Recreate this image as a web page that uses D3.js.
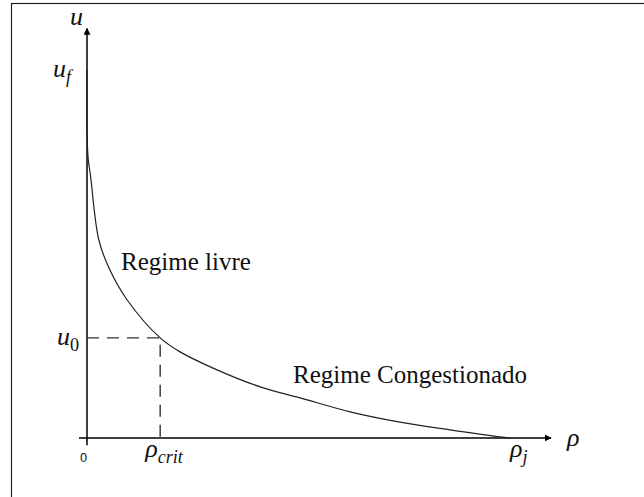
<!DOCTYPE html>
<html>
<head>
<meta charset="utf-8">
<script src="https://cdn.jsdelivr.net/npm/d3@7"></script>
</head>
<body style="margin:0">
<svg id="c" width="644" height="497"></svg>
<script>
// density (rho / rho_j) and speed (u / u_f)
var rho = [0, 0, 0.0024, 0.0087, 0.028, 0.054, 0.095, 0.173, 0.22, 0.298, 0.409, 0.504, 0.622, 0.740, 0.858, 0.976, 1.0];
var speed = [1.0, 0.845, 0.764, 0.709, 0.538, 0.457, 0.375, 0.272, 0.234, 0.190, 0.139, 0.109, 0.071, 0.043, 0.022, 0.003, 0];

var uf = 1.0;
var u0 = 0.272;
var rhoCrit = 0.173;
var rhoJ = 1.0;

var svg = d3.select("#c");

var x = d3.scaleLinear().domain([0, 1]).range([87, 510]);
var y = d3.scaleLinear().domain([0, 1]).range([438, 70]);

// frame
svg.append("rect")
	.attr("x", 11.5).attr("y", 3.5)
	.attr("width", 700).attr("height", 600)
	.attr("fill", "none").attr("stroke", "#222").attr("stroke-width", 1.2);

svg.append("defs").append("marker")
	.attr("id", "arrow")
	.attr("viewBox", "0 0 10 10")
	.attr("refX", 9).attr("refY", 5)
	.attr("markerWidth", 7).attr("markerHeight", 7)
	.attr("markerUnits", "userSpaceOnUse")
	.attr("orient", "auto")
	.append("path")
	.attr("d", "M0,0 L10,5 L0,10 z")
	.attr("fill", "#000");

// axes
svg.append("line")
	.attr("x1", x(-0.019)).attr("y1", y(0))
	.attr("x2", x(1.097)).attr("y2", y(0))
	.attr("stroke", "#000").attr("stroke-width", 1.5)
	.attr("marker-end", "url(#arrow)");
svg.append("line")
	.attr("x1", x(0)).attr("y1", y(-0.02))
	.attr("x2", x(0)).attr("y2", y(1.113))
	.attr("stroke", "#000").attr("stroke-width", 1.5)
	.attr("marker-end", "url(#arrow)");

// critical point guides
svg.append("path")
	.attr("d", "M" + x(0) + "," + y(u0) + "H" + x(rhoCrit) + "V" + y(0))
	.attr("fill", "none")
	.attr("stroke", "#333").attr("stroke-width", 1.4)
	.attr("stroke-dasharray", "12,8");

// curve
var pts = rho.map(function(r, i){ return [r, speed[i]]; });
var line = d3.line()
	.x(function(d){ return x(d[0]); })
	.y(function(d){ return y(d[1]); })
	.curve(d3.curveCatmullRom.alpha(0.5));
svg.append("path")
	.datum(pts)
	.attr("d", line)
	.attr("fill", "none")
	.attr("stroke", "#222").attr("stroke-width", 1.2);

// labels: [text, subscript, x, y, size, italic]
var labels = [
	["u", "", x(0) - 17, y(1.113) - 3, 26, true],
	["u", "f", x(0) - 34, y(uf) + 7, 26, true],
	["u", "0", x(0) - 30, y(u0) + 7, 26, true],
	["ρ", "crit", x(rhoCrit) - 15, y(0) + 19, 26, true],
	["ρ", "j", x(rhoJ), y(0) + 19, 26, true],
	["ρ", "", x(1.097) + 16, y(0) + 8, 26, true],
	["Regime livre", "", 121, 270, 25, false],
	["Regime Congestionado", "", 293, 383, 25, false]
];

var t = svg.selectAll("text.lbl")
	.data(labels)
	.enter()
	.append("text")
	.attr("class", "lbl")
	.attr("x", function(d){ return d[2]; })
	.attr("y", function(d){ return d[3]; })
	.style("font-family", function(d){ return '"Liberation Serif"'; }, "important")
	.style("font-size", function(d){ return d[4] + "px"; })
	.style("fill", "#111");

t.append("tspan")
	.style("font-style", function(d){ return d[5] ? "italic" : "normal"; })
	.text(function(d){ return d[0]; });
t.filter(function(d){ return d[1] !== ""; })
	.append("tspan")
	.attr("dy", function(d){ return d[4] * 0.22; })
	.style("font-size", function(d){ return (d[4] * 0.7) + "px"; })
	.style("font-style", function(d){ return d[1] === "0" ? "normal" : "italic"; })
	.text(function(d){ return d[1]; });

svg.append("text")
	.attr("x", x(0) - 3.5).attr("y", y(0) + 24)
	.attr("text-anchor", "middle")
	.style("fill", "#222")
	.style("font-family", '"DejaVu Sans"', "important")
	.style("font-size", "12px")
	.text("0");
</script>
</body>
</html>
